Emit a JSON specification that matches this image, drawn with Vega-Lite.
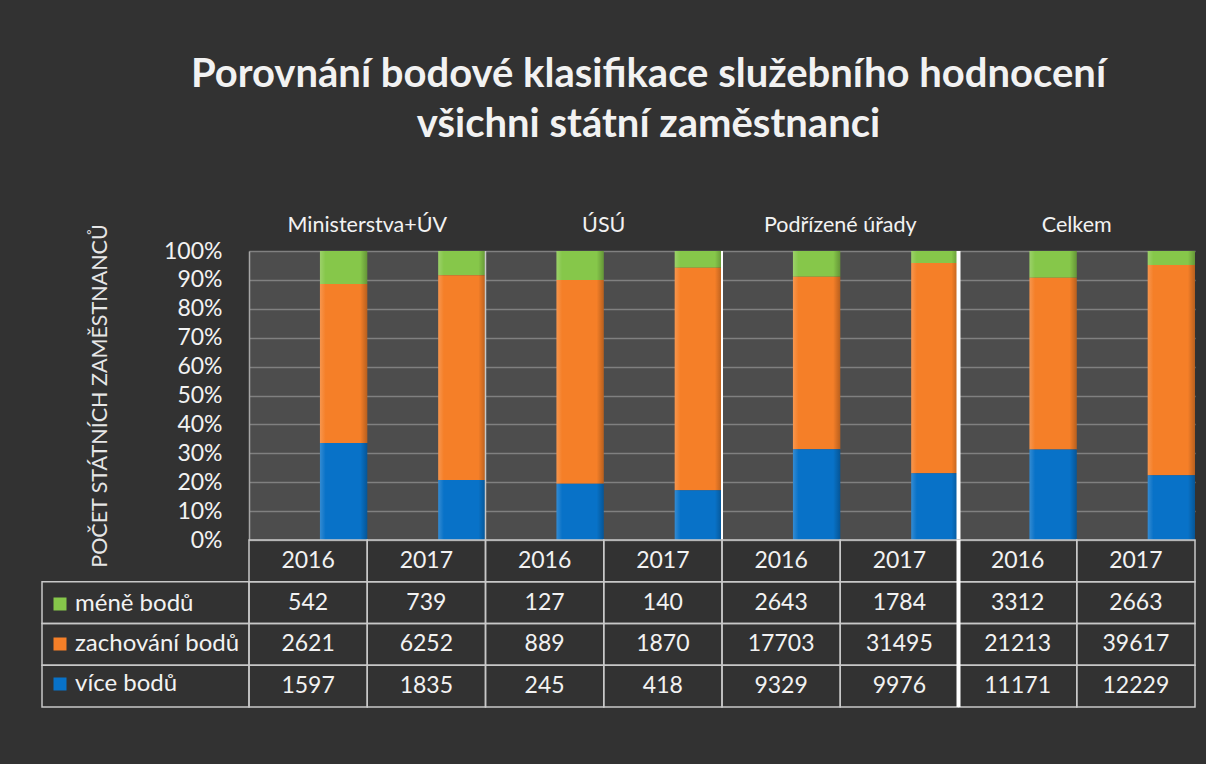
{
  "$schema": "https://vega.github.io/schema/vega-lite/v6.json",
  "background": "#323232",
  "padding": {"left": 41, "top": 55, "right": 30, "bottom": 80},
  "config": {"font": "Lato", "view": {"stroke": null}},
  "title": {
    "text": ["Porovnání bodové klasifikace služebního hodnocení", "všichni státní zaměstnanci"],
    "fontSize": 40, "fontWeight": "bold", "color": "#f2f2f2", "lineHeight": 50,
    "offset": 69, "dx": 30, "anchor": "middle", "font": "Lato"
  },
  "datasets": {
    "d": [
      {"group": "Ministerstva+ÚV", "year": "2016", "cat": "méně bodů", "pos": 3, "value": 542},
      {"group": "Ministerstva+ÚV", "year": "2016", "cat": "zachování bodů", "pos": 2, "value": 2621},
      {"group": "Ministerstva+ÚV", "year": "2016", "cat": "více bodů", "pos": 1, "value": 1597},
      {"group": "Ministerstva+ÚV", "year": "2017", "cat": "méně bodů", "pos": 3, "value": 739},
      {"group": "Ministerstva+ÚV", "year": "2017", "cat": "zachování bodů", "pos": 2, "value": 6252},
      {"group": "Ministerstva+ÚV", "year": "2017", "cat": "více bodů", "pos": 1, "value": 1835},
      {"group": "ÚSÚ", "year": "2016", "cat": "méně bodů", "pos": 3, "value": 127},
      {"group": "ÚSÚ", "year": "2016", "cat": "zachování bodů", "pos": 2, "value": 889},
      {"group": "ÚSÚ", "year": "2016", "cat": "více bodů", "pos": 1, "value": 245},
      {"group": "ÚSÚ", "year": "2017", "cat": "méně bodů", "pos": 3, "value": 140},
      {"group": "ÚSÚ", "year": "2017", "cat": "zachování bodů", "pos": 2, "value": 1870},
      {"group": "ÚSÚ", "year": "2017", "cat": "více bodů", "pos": 1, "value": 418},
      {"group": "Podřízené úřady", "year": "2016", "cat": "méně bodů", "pos": 3, "value": 2643},
      {"group": "Podřízené úřady", "year": "2016", "cat": "zachování bodů", "pos": 2, "value": 17703},
      {"group": "Podřízené úřady", "year": "2016", "cat": "více bodů", "pos": 1, "value": 9329},
      {"group": "Podřízené úřady", "year": "2017", "cat": "méně bodů", "pos": 3, "value": 1784},
      {"group": "Podřízené úřady", "year": "2017", "cat": "zachování bodů", "pos": 2, "value": 31495},
      {"group": "Podřízené úřady", "year": "2017", "cat": "více bodů", "pos": 1, "value": 9976},
      {"group": "Celkem", "year": "2016", "cat": "méně bodů", "pos": 3, "value": 3312},
      {"group": "Celkem", "year": "2016", "cat": "zachování bodů", "pos": 2, "value": 21213},
      {"group": "Celkem", "year": "2016", "cat": "více bodů", "pos": 1, "value": 11171},
      {"group": "Celkem", "year": "2017", "cat": "méně bodů", "pos": 3, "value": 2663},
      {"group": "Celkem", "year": "2017", "cat": "zachování bodů", "pos": 2, "value": 39617},
      {"group": "Celkem", "year": "2017", "cat": "více bodů", "pos": 1, "value": 12229}
    ]
  },
  "data": {"name": "d"},
  "columns": 2,
  "spacing": 0,
  "bounds": "flush",
  "concat": [
    {
      "width": 207, "height": 289,
      "mark": {"type": "rule", "opacity": 0},
      "encoding": {}
    },
    {
      "width": 946, "height": 289,
      "view": {"fill": "#4d4d4d", "stroke": null},
      "encoding": {
        "x": {
          "field": "group", "type": "nominal",
          "sort": ["Ministerstva+ÚV", "ÚSÚ", "Podřízené úřady", "Celkem"],
          "scale": {"paddingInner": 0, "paddingOuter": 0},
          "axis": {"orient": "top", "title": null, "ticks": false, "domain": false, "labelColor": "#f2f2f2", "labelFontSize": 21.5, "labelPadding": 15, "labelAngle": 0}
        }
      },
      "layer": [
        {
          "mark": {"type": "bar", "width": {"band": 0.4}},
          "encoding": {
            "xOffset": {"field": "year", "type": "nominal", "scale": {"paddingInner": 0, "paddingOuter": 0}},
            "y": {
              "field": "value", "type": "quantitative", "stack": "normalize",
              "axis": {
                "title": "POČET STÁTNÍCH ZAMĚSTNANCŮ", "titleColor": "#e6e6e6", "titleFontSize": 21.5, "titleFontWeight": "normal", "titlePadding": 52,
                "format": ".0%", "values": [0, 0.1, 0.2, 0.3, 0.4, 0.5, 0.6, 0.7, 0.8, 0.9, 1], "labelOverlap": false,
                "labelColor": "#f2f2f2", "labelFontSize": 23, "labelPadding": 27, "ticks": false,
                "domain": true, "domainColor": "#a6a6a6", "domainWidth": 1.5,
                "grid": true, "gridColor": "#808080", "gridWidth": 1.5
              }
            },
            "color": {
              "field": "cat", "type": "nominal",
              "scale": {"domain": ["méně bodů", "zachování bodů", "více bodů"], "range": ["#86c74a", "#f57f28", "#0872c8"]},
              "legend": {
                "orient": "none", "legendX": 6, "legendY": 341, "title": null,
                "symbolType": "square", "symbolSize": 169, "symbolStrokeWidth": 0,
                "labelColor": "#f2f2f2", "labelFontSize": 24, "labelOffset": 3, "labelLimit": 400, "rowPadding": 16, "padding": 0
              }
            },
            "order": {"field": "pos", "type": "quantitative"}
          }
        },
        {
          "mark": {
            "type": "bar", "width": {"band": 0.4},
            "fill": {
              "x1": 0, "y1": 0, "x2": 1, "y2": 0, "gradient": "linear",
              "stops": [
                {"offset": 0, "color": "rgba(255,255,255,0.18)"},
                {"offset": 0.12, "color": "rgba(255,255,255,0)"},
                {"offset": 0.85, "color": "rgba(0,0,0,0)"},
                {"offset": 1, "color": "rgba(0,0,0,0.25)"}
              ]
            }
          },
          "encoding": {
            "xOffset": {"field": "year", "type": "nominal", "scale": {"paddingInner": 0, "paddingOuter": 0}},
            "y": {
              "field": "value", "type": "quantitative", "stack": "normalize",
              "axis": {
                "title": "POČET STÁTNÍCH ZAMĚSTNANCŮ", "titleColor": "#e6e6e6", "titleFontSize": 21.5, "titleFontWeight": "normal", "titlePadding": 52,
                "format": ".0%", "values": [0, 0.1, 0.2, 0.3, 0.4, 0.5, 0.6, 0.7, 0.8, 0.9, 1], "labelOverlap": false,
                "labelColor": "#f2f2f2", "labelFontSize": 23, "labelPadding": 27, "ticks": false,
                "domain": true, "domainColor": "#a6a6a6", "domainWidth": 1.5,
                "grid": true, "gridColor": "#808080", "gridWidth": 1.5
              }
            },
            "detail": {"field": "cat", "type": "nominal"},
            "order": {"field": "pos", "type": "quantitative"}
          }
        },
        {
          "transform": [{"filter": "datum.group == 'ÚSÚ' && datum.year == '2016' && datum.cat == 'více bodů'"}],
          "mark": {"type": "rule", "color": "#c8c8c8", "strokeWidth": 1.5},
          "encoding": {"x": {"field": "group", "type": "nominal", "bandPosition": 0}}
        },
        {
          "transform": [{"filter": "datum.group == 'Podřízené úřady' && datum.year == '2016' && datum.cat == 'více bodů'"}],
          "mark": {"type": "rule", "color": "#ffffff", "strokeWidth": 2},
          "encoding": {"x": {"field": "group", "type": "nominal", "bandPosition": 0}}
        },
        {
          "transform": [{"filter": "datum.group == 'Celkem' && datum.year == '2016' && datum.cat == 'více bodů'"}],
          "mark": {"type": "rule", "color": "#ffffff", "strokeWidth": 4},
          "encoding": {"x": {"field": "group", "type": "nominal", "bandPosition": 0}}
        }
      ]
    },
    {
      "width": 207, "height": 167,
      "transform": [{"filter": "datum.group == 'Celkem' && datum.year == '2017'"}],
      "mark": {"type": "rect", "fillOpacity": 0, "stroke": "#c8c8c8", "strokeWidth": 1.5},
      "encoding": {
        "y": {"field": "cat", "type": "nominal", "scale": {"domain": [" ", "méně bodů", "zachování bodů", "více bodů"], "paddingInner": 0, "paddingOuter": 0}, "axis": null}
      }
    },
    {
      "width": 946, "height": 167,
      "encoding": {
        "x": {
          "field": "group", "type": "nominal",
          "sort": ["Ministerstva+ÚV", "ÚSÚ", "Podřízené úřady", "Celkem"],
          "scale": {"paddingInner": 0, "paddingOuter": 0}, "axis": null
        },
        "y": {"field": "cat", "type": "nominal", "scale": {"domain": [" ", "méně bodů", "zachování bodů", "více bodů"], "paddingInner": 0, "paddingOuter": 0}, "axis": null}
      },
      "layer": [
        {
          "mark": {"type": "rect", "fillOpacity": 0, "stroke": "#c8c8c8", "strokeWidth": 1.5},
          "encoding": {"xOffset": {"field": "year", "type": "nominal", "scale": {"paddingInner": 0, "paddingOuter": 0}}}
        },
        {
          "transform": [{"filter": "datum.cat == 'více bodů'"}],
          "mark": {"type": "rect", "fillOpacity": 0, "stroke": "#c8c8c8", "strokeWidth": 1.5},
          "encoding": {"xOffset": {"field": "year", "type": "nominal"}, "y": {"datum": " "}}
        },
        {
          "mark": {"type": "text", "color": "#f2f2f2", "fontSize": 23},
          "encoding": {"xOffset": {"field": "year", "type": "nominal"}, "text": {"field": "value", "type": "quantitative", "format": "d"}}
        },
        {
          "transform": [{"filter": "datum.cat == 'více bodů'"}],
          "mark": {"type": "text", "color": "#f2f2f2", "fontSize": 23},
          "encoding": {"xOffset": {"field": "year", "type": "nominal"}, "y": {"datum": " "}, "text": {"field": "year", "type": "nominal"}}
        },
        {
          "transform": [{"filter": "datum.group == 'Celkem' && datum.year == '2016' && datum.cat == 'více bodů'"}],
          "mark": {"type": "rule", "color": "#ffffff", "strokeWidth": 4},
          "encoding": {"x": {"field": "group", "type": "nominal", "bandPosition": 0}, "y": null}
        }
      ]
    }
  ]
}
